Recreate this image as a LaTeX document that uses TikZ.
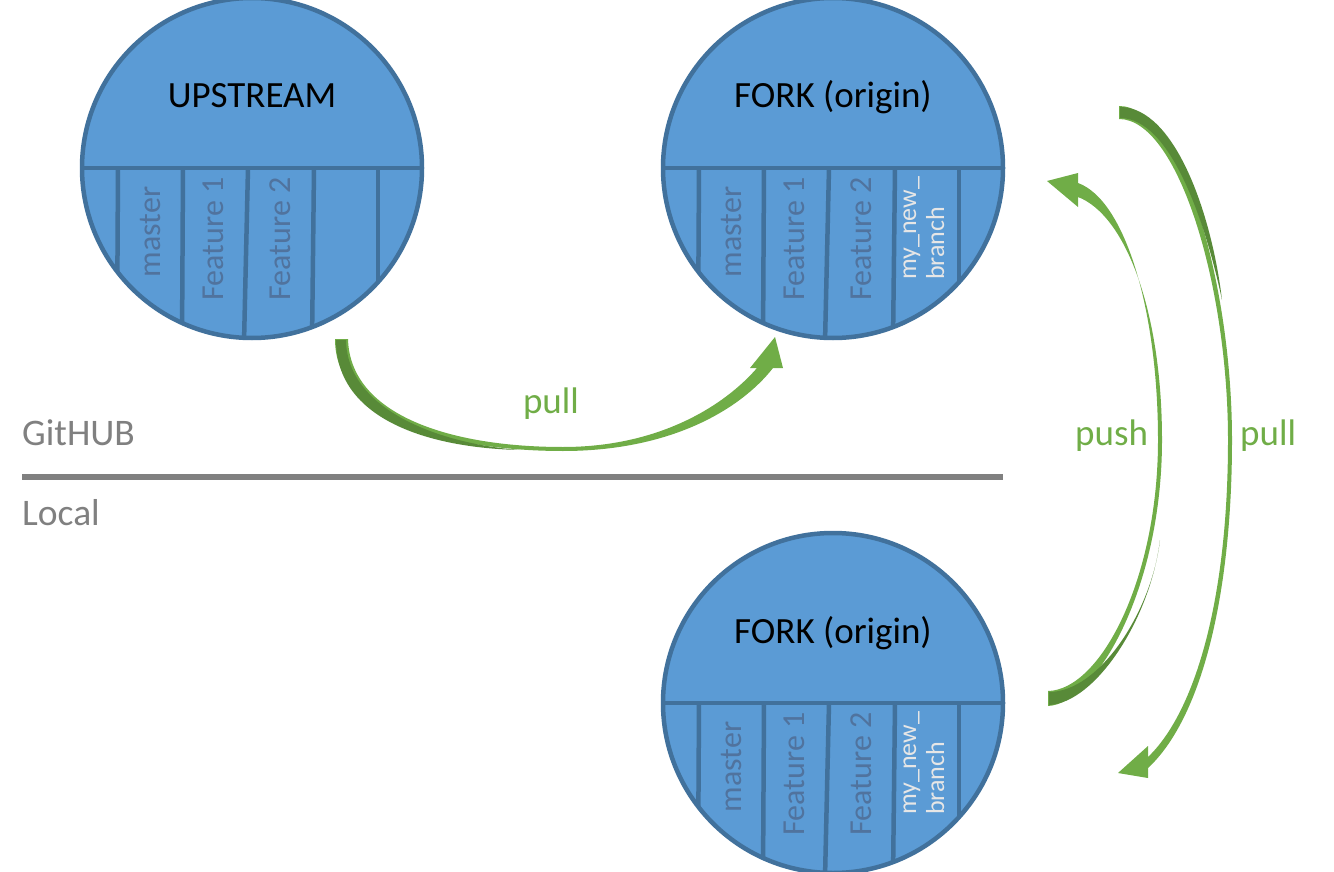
\documentclass[tikz,border=0pt]{standalone}
\usepackage{fontspec}
\setmainfont{Carlito}
\definecolor{repofill}{HTML}{5B9BD5}
\definecolor{repoedge}{HTML}{41719C}
\definecolor{brtext}{HTML}{50739E}
\definecolor{newbr}{HTML}{E6E6E6}
\definecolor{grn}{HTML}{70AD47}
\definecolor{dgrn}{HTML}{588A38}
\definecolor{sepgray}{HTML}{808080}
\newcommand\drawrepo[4]{%
\begin{scope}[shift={#2}]
  \node[repocircle] (#1) at (0,0) {};
  \begin{scope}
    \clip (0,0) circle (170pt);
    \foreach \ta/\tb in {-134/-135,-69/-70,-4/-8,62/60,126/126}
      \draw[repoline] (\ta,0) -- (\tb,175);
  \end{scope}
  \draw[repoline] (-170,0) -- (170,0);
  \draw[repoline] (0,0) circle (170pt);
  \node[title, anchor=base] (#1-t) at (0,-60) {#3};
  \node[brl] (#1-m) at (-102,64) {master};
  \node[brl] (#1-f1) at (-39,71) {Feature 1};
  \node[brl] (#1-f2) at (28,71) {Feature 2};
  #4
\end{scope}}
\begin{document}
\begin{tikzpicture}[x=1pt,y=-1pt,
  repocircle/.style={circle, minimum size=340pt, inner sep=0pt, fill=repofill},
  repoline/.style={draw=repoedge, line width=4.5pt},
  title/.style={font=\fontsize{37}{40}\selectfont, text=black, inner sep=0pt},
  brl/.style={rotate=90, text=brtext, font=\fontsize{32}{34}\selectfont, inner sep=0pt},
  nbl/.style={rotate=90, text=newbr, font=\fontsize{26}{28}\selectfont, inner sep=0pt, align=left},
  side/.style={text=sepgray, font=\fontsize{37.5}{40}\selectfont, inner sep=0pt},
  glabel/.style={text=grn, font=\fontsize{37}{40}\selectfont, inner sep=0pt},
  sepline/.style={draw=sepgray, line width=6pt}]
\useasboundingbox (0,0) rectangle (1334,872);

\drawrepo{up}{(252,168)}{UPSTREAM}{}
\drawrepo{fork}{(833,168)}{FORK (origin)}{\node[nbl, anchor=west] (fork-nb) at (91,112) {my\_new\_\\branch};}
\drawrepo{local}{(833,703)}{FORK (origin)}{\node[nbl, anchor=west] (local-nb) at (91,112) {my\_new\_\\branch};}

% separator
\coordinate (sepL) at (22,477);
\coordinate (sepR) at (1003,477);
\draw[sepline] (sepL) -- (sepR);
\node[side, anchor=base west] (gh) at (22,445) {GitHUB};
\node[side, anchor=base west] (loc) at (22,525) {Local};

% pull: upstream -> fork
\fill[grn] (335,339) .. controls (335,420) and (450,451) .. (563,451)
  .. controls (670,451) and (740,410) .. (773,368) -- (783,368) -- (775,337)
  -- (750,368) -- (757,368) .. controls (725,405) and (660,447) .. (563,447)
  .. controls (450,447) and (350,415) .. (348,339) -- cycle;
\fill[dgrn] (336,340) .. controls (336,420) and (430,448) .. (520,450)
  .. controls (440,444) and (347,410) .. (346,340) -- cycle;
\node[glabel, anchor=base] (pull1) at (551,413) {pull};

% push: local -> fork
\fill[grn] (1048,706) .. controls (1095,704) and (1162,590) .. (1162,440)
  .. controls (1162,310) and (1125,215) .. (1078,197) -- (1078,207) -- (1047,181)
  -- (1078,173) -- (1078,183) .. controls (1125,200) and (1158,310) .. (1158,440)
  .. controls (1158,580) and (1100,690) .. (1048,691) -- cycle;
\fill[dgrn] (1049,705) .. controls (1095,703) and (1150,620) .. (1160,540)
  .. controls (1152,610) and (1100,692) .. (1049,692) -- cycle;
\node[glabel, anchor=base west] (push) at (1075,445) {push};

% pull: fork -> local
\fill[grn] (1119,106) .. controls (1180,106) and (1232,280) .. (1232,440)
  .. controls (1232,600) and (1200,720) .. (1148,768) -- (1148,778) -- (1118,773)
  -- (1148,746) -- (1148,757) .. controls (1195,712) and (1228,600) .. (1228,440)
  .. controls (1228,285) and (1178,119) .. (1119,119) -- cycle;
\fill[dgrn] (1120,107) .. controls (1175,107) and (1212,215) .. (1222,300)
  .. controls (1205,220) and (1170,118) .. (1120,118) -- cycle;
\node[glabel, anchor=base west] (pull2) at (1240,445) {pull};
\end{tikzpicture}
\end{document}
